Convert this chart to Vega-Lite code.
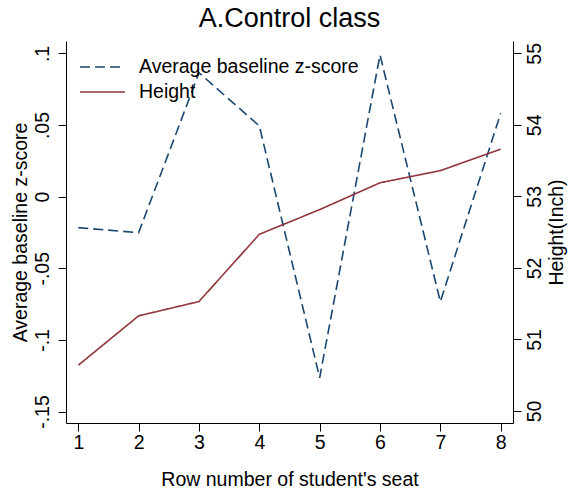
{
  "$schema": "https://vega.github.io/schema/vega-lite/v6.json",
  "width": 447,
  "height": 382,
  "autosize": {"type": "none"},
  "padding": {"left": 66, "top": 41, "right": 55, "bottom": 71},
  "background": "white",
  "title": {
    "text": "A.Control class",
    "fontSize": 27,
    "font": "Liberation Sans",
    "fontWeight": "normal",
    "color": "black",
    "anchor": "middle",
    "frame": "group",
    "baseline": "bottom",
    "offset": 9,
    "dy": 28
  },
  "config": {
    "view": {"stroke": null},
    "font": "Liberation Sans",
    "axis": {
      "grid": false,
      "domainColor": "black",
      "tickColor": "black",
      "labelColor": "black",
      "titleColor": "black",
      "labelFont": "Liberation Sans",
      "titleFont": "Liberation Sans",
      "labelFontSize": 19.5,
      "titleFontSize": 19.5,
      "titleFontWeight": "normal",
      "tickSize": 8,
      "domainWidth": 1,
      "tickWidth": 1
    }
  },
  "data": {
    "values": [
      {"row": 1, "series": "Average baseline z-score", "value": -0.0216},
      {"row": 2, "series": "Average baseline z-score", "value": -0.0251},
      {"row": 3, "series": "Average baseline z-score", "value": 0.0865},
      {"row": 4, "series": "Average baseline z-score", "value": 0.0494},
      {"row": 5, "series": "Average baseline z-score", "value": -0.1264},
      {"row": 6, "series": "Average baseline z-score", "value": 0.0990},
      {"row": 7, "series": "Average baseline z-score", "value": -0.0733},
      {"row": 8, "series": "Average baseline z-score", "value": 0.0582},
      {"row": 1, "series": "Height", "value": 50.64},
      {"row": 2, "series": "Height", "value": 51.33},
      {"row": 3, "series": "Height", "value": 51.53},
      {"row": 4, "series": "Height", "value": 52.47},
      {"row": 5, "series": "Height", "value": 52.815},
      {"row": 6, "series": "Height", "value": 53.19},
      {"row": 7, "series": "Height", "value": 53.36},
      {"row": 8, "series": "Height", "value": 53.66}
    ]
  },
  "encoding": {
    "x": {
      "field": "row",
      "type": "quantitative",
      "scale": {"domain": [0.796, 8.204], "nice": false, "zero": false},
      "axis": {
        "values": [1, 2, 3, 4, 5, 6, 7, 8],
        "title": "Row number of student's seat",
        "labelPadding": 2,
        "titlePadding": 19,
        "labelAngle": 0
      }
    },
    "color": {
      "field": "series",
      "type": "nominal",
      "scale": {"domain": ["Average baseline z-score", "Height"], "range": ["#1a476f", "#90353b"]},
      "legend": {
        "title": null,
        "orient": "none",
        "legendX": 13,
        "legendY": 16,
        "padding": 0,
        "symbolType": "stroke",
        "symbolSize": 2025,
        "symbolStrokeWidth": 1.6,
        "clipHeight": 20,
        "rowPadding": 5,
        "labelOffset": 13,
        "labelFontSize": 19.5,
        "labelFont": "Liberation Sans",
        "labelColor": "black",
        "labelLimit": 400
      }
    },
    "strokeDash": {
      "field": "series",
      "type": "nominal",
      "scale": {"domain": ["Average baseline z-score", "Height"], "range": [[10, 5], [1, 0]]},
      "legend": {
        "title": null,
        "orient": "none",
        "legendX": 13,
        "legendY": 16,
        "padding": 0,
        "symbolType": "stroke",
        "symbolSize": 2025,
        "symbolStrokeWidth": 1.6,
        "clipHeight": 20,
        "rowPadding": 5,
        "labelOffset": 13,
        "labelFontSize": 19.5,
        "labelFont": "Liberation Sans",
        "labelColor": "black",
        "labelLimit": 400
      }
    }
  },
  "layer": [
    {
      "transform": [{"filter": "datum.series === 'Average baseline z-score'"}],
      "mark": {"type": "line", "strokeWidth": 1.6},
      "encoding": {
        "y": {
          "field": "value",
          "type": "quantitative",
          "scale": {"domain": [-0.158, 0.1087], "nice": false, "zero": false},
          "axis": {
            "orient": "left",
            "values": [-0.15, -0.1, -0.05, 0, 0.05, 0.1],
            "labelExpr": "datum.value == 0 ? '0' : (datum.value < 0 ? '-' : '') + replace(format(abs(datum.value), '.2~f'), '0.', '.')",
            "labelAngle": 270,
            "labelAlign": "center",
            "labelBaseline": "alphabetic",
            "labelPadding": 10,
            "title": "Average baseline z-score",
            "titlePadding": 2
          }
        }
      }
    },
    {
      "transform": [{"filter": "datum.series === 'Height'"}],
      "mark": {"type": "line", "strokeWidth": 1.6},
      "encoding": {
        "y": {
          "field": "value",
          "type": "quantitative",
          "scale": {"domain": [49.832, 55.172], "nice": false, "zero": false},
          "axis": {
            "orient": "right",
            "values": [50, 51, 52, 53, 54, 55],
            "labelAngle": 270,
            "labelAlign": "center",
            "labelBaseline": "alphabetic",
            "labelPadding": 19,
            "title": "Height(Inch)",
            "titleAngle": 270,
            "titleBaseline": "top",
            "titlePadding": 4
          }
        }
      }
    }
  ],
  "resolve": {"scale": {"y": "independent"}}
}
